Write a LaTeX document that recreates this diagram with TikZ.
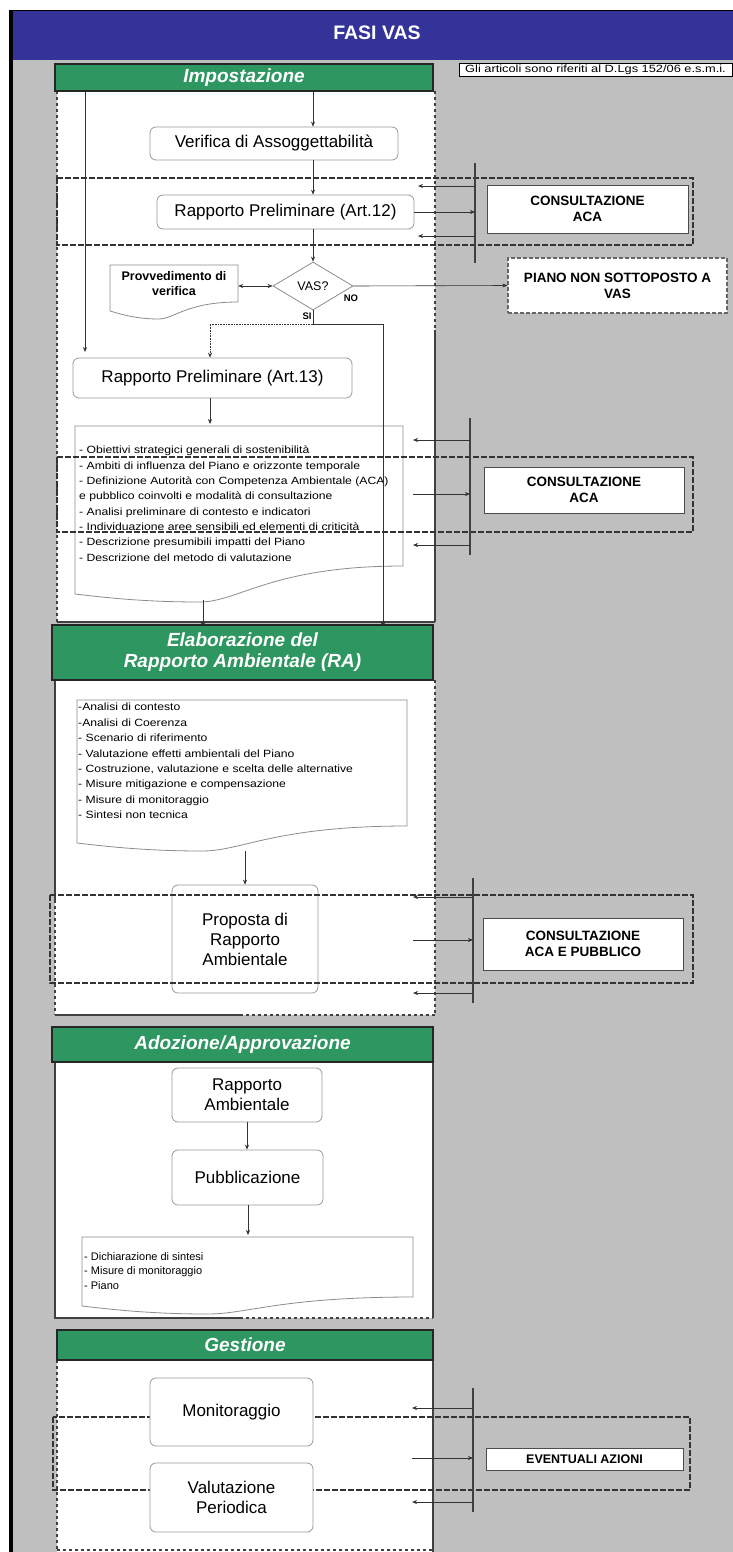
\documentclass[tikz,border=0pt]{standalone}
\usepackage{fontspec}
\setmainfont{Liberation Sans}
\newfontfamily\widefont[FakeStretch=1.16]{Liberation Sans}
\newfontfamily\notefont[FakeStretch=1.22]{Liberation Sans}
\usetikzlibrary{shapes.geometric,arrows.meta}
\definecolor{vblue}{RGB}{51,51,153}
\definecolor{vgreen}{RGB}{46,150,96}
\definecolor{vgray}{RGB}{191,191,191}
\tikzset{
  phasehead/.style={fill=vgreen, draw=black!85, line width=1.5pt, text=white,
    font=\bfseries\itshape\fontsize{19}{21}\selectfont, align=center, inner sep=0pt},
  stepbox/.style={draw=black!40, rounded corners=6pt, fill=white, line width=0.8pt,
    font=\fontsize{17}{20}\selectfont, align=center, inner sep=0pt},
  consbox/.style={draw=black!70, fill=white, line width=1pt,
    font=\bfseries\fontsize{13.5}{16}\selectfont, align=center, inner sep=0pt},
  notebox/.style={draw=black, fill=white, line width=0.9pt, minimum width=273pt,
    minimum height=13pt, inner sep=0pt, font=\notefont\fontsize{10.5}{11}\selectfont},
  pedge/.style={line width=1.3pt, black!75},
  vbar/.style={line width=2.6pt, black!75},
  band/.style={draw=black!80, line width=1.5pt, dash pattern=on 6pt off 2pt},
  arr/.style={-{Stealth[length=5pt,width=4pt]}, black!80, line width=0.6pt},
  dotend/.style={-{Circle[length=4pt]}, black!80, line width=0.7pt},
  docline/.style={draw=black!45, fill=white, line width=0.8pt},
  listtext/.style={font=\widefont\fontsize{10.5}{15.3}\selectfont, align=left, anchor=north west, inner sep=0pt},
  smalllab/.style={font=\bfseries\fontsize{9.5}{10}\selectfont, inner sep=0pt},
}
\newcommand{\vasdoc}[5]{%
  \draw[docline] (#1,#3) -- (#2,#3) -- (#2,#4)
    .. controls ({#1+0.6*(#2-#1)},{#4}) and ({#1+0.5*(#2-#1)},{#5+8}) .. ({#1+0.38*(#2-#1)},{#5+8})
    .. controls ({#1+0.2*(#2-#1)},{#5+8}) and ({#1+0.08*(#2-#1)},{#5+3}) .. (#1,#5) -- cycle;}
\begin{document}
\begin{tikzpicture}[x=1pt,y=-1pt]
\useasboundingbox (0,0) rectangle (733,1552);
% ---------- background ----------
\fill[white] (0,0) rectangle (733,1552);
\fill[vgray] (12,60) rectangle (733,1552);
\fill[vblue] (10,10) rectangle (733,60);
\draw[black, line width=1pt] (10,10.5) -- (733,10.5);
\fill[black] (8.5,10) rectangle (12.5,1552);
\node[font=\bfseries\fontsize{19.5}{22}\selectfont, text=white] (title) at (377,33) {FASI VAS};
\node[notebox] (note) at (595.5,69.5) {Gli articoli sono riferiti al D.Lgs 152/06 e.s.m.i.};

% ---------- panels ----------
\fill[white] (57,91) rectangle (435,622);
\draw[pedge, dashed] (57,91) -- (57,622);
\draw[pedge, dashed] (435,91) -- (435,330);
\draw[pedge] (435,330) -- (435,622);
\draw[pedge] (57,622) -- (435,622);

\fill[white] (55,680) rectangle (435,1015);
\draw[pedge] (55,680) -- (55,900);
\draw[pedge, dashed] (55,900) -- (55,1015);
\draw[pedge, dashed] (435,680) -- (435,1015);
\draw[pedge] (55,1015) -- (240,1015);
\draw[pedge, dashed] (240,1015) -- (435,1015);

\fill[white] (55,1062) rectangle (433,1318);
\draw[pedge] (55,1062) -- (55,1318) -- (240,1318);
\draw[pedge, dashed] (240,1318) -- (433,1318);
\draw[pedge] (433,1062) -- (433,1318);

\fill[white] (57,1360) rectangle (433,1552);
\draw[pedge, dashed] (57,1360) -- (57,1552);
\draw[pedge] (433,1360) -- (433,1552);
\draw[pedge, dashed] (57,1550) -- (433,1550);

% ---------- headers ----------
\node[phasehead, minimum width=378pt, minimum height=27pt] (h1) at (244,77.5) {Impostazione};
\node[phasehead, minimum width=381pt, minimum height=55pt] (h2) at (242.5,652.5) {Elaborazione del\\Rapporto Ambientale (RA)};
\node[phasehead, minimum width=381pt, minimum height=35pt] (h3) at (242.5,1044.5) {Adozione/Approvazione};
\node[phasehead, minimum width=376pt, minimum height=30pt] (h4) at (245,1345) {Gestione};

% ---------- phase 1 ----------
\node[stepbox, minimum width=248pt, minimum height=33pt] (ver) at (274,143.5) {Verifica di Assoggettabilità};
\node[stepbox, minimum width=257pt, minimum height=34pt] (rp12) at (285.5,212) {Rapporto Preliminare (Art.12)};
\node[draw=black!45, fill=white, line width=0.8pt, shape=diamond, shape aspect=1.7,
      minimum width=80pt, minimum height=48pt, inner sep=0pt, font=\fontsize{12.5}{14}\selectfont] (vas) at (313,286) {VAS?};
\vasdoc{110}{238}{265}{302}{311}
\node[font=\bfseries\fontsize{12.5}{15}\selectfont, align=center, minimum width=128pt, inner sep=0pt] (prov) at (174,284) {Provvedimento di\\verifica};
\node[consbox, dash pattern=on 4pt off 2pt, line width=1.2pt, draw=black!60, minimum width=219pt, minimum height=55pt] (piano) at (617.5,285.5) {PIANO NON SOTTOPOSTO A\\VAS};
\node[stepbox, minimum width=279pt, minimum height=40pt] (rp13) at (212.5,378) {Rapporto Preliminare (Art.13)};
\vasdoc{75}{403}{426}{566}{594}
\node[listtext] (list1) at (79,446) {- Obiettivi strategici generali di sostenibilità\\
- Ambiti di influenza del Piano e orizzonte temporale\\
- Definizione Autorità con Competenza Ambientale (ACA)\\
e pubblico coinvolti e modalità di consultazione\\
- Analisi preliminare di contesto e indicatori\\
- Individuazione aree sensibili ed elementi di criticità\\
- Descrizione presumibili impatti del Piano\\
- Descrizione del metodo di valutazione};

\coordinate (x313) at (313,0);
\coordinate (lt) at (85,91);
\coordinate (lb) at (85,352);
\draw[arr] (lt) -- (lb);
\draw[arr] (h1.south -| x313) -- (ver.north -| x313);
\draw[arr] (ver.south -| x313) -- (rp12.north -| x313);
\draw[arr] (rp12.south -| x313) -- (vas.north);
\draw[{Stealth[length=5pt,width=4pt]}-{Stealth[length=5pt,width=4pt]}, black!80, line width=0.6pt] (prov.east |- vas.west) -- (vas.west);
\draw[arr] (vas.east) -- (piano.west);
\node[smalllab] (nolab) at (351,298) {NO};
\node[smalllab] (silab) at (307,316) {SI};
\coordinate (si) at (313,324);
\coordinate (sr) at (383,324);
\coordinate (sl) at (210,324);
\coordinate (sd) at (383,625);
\draw[black!80, line width=1pt] (vas.south) -- (si) -- (sr);
\draw[dotend] (sr) -- (sd);
\draw[arr, densely dotted] (si) -- (sl) -- (rp13.north -| sl);
\coordinate (d1t) at (210,424);
\draw[arr] (rp13.south -| d1t) -- (d1t);
\coordinate (d1b) at (203,600);
\coordinate (d1h) at (203,625);
\draw[dotend] (d1b) -- (d1h);

% ---------- phase 2 ----------
\vasdoc{77}{407}{700}{826}{843}
\node[listtext, font=\widefont\fontsize{10.5}{15.4}\selectfont] (list2) at (78,703) {-Analisi di contesto\\
-Analisi di Coerenza\\
- Scenario di riferimento\\
- Valutazione effetti ambientali del Piano\\
- Costruzione, valutazione e scelta delle alternative\\
- Misure mitigazione e compensazione\\
- Misure di monitoraggio\\
- Sintesi non tecnica};
\node[stepbox, minimum width=146pt, minimum height=108pt] (prop) at (245,939) {Proposta di\\Rapporto\\Ambientale};
\coordinate (d2b) at (245,851);
\draw[arr] (d2b) -- (prop.north);

% ---------- phase 3 ----------
\node[stepbox, minimum width=150pt, minimum height=54pt] (ra) at (247,1095) {Rapporto\\Ambientale};
\node[stepbox, minimum width=151pt, minimum height=55pt] (pub) at (247.5,1177.5) {Pubblicazione};
\draw[arr] (ra.south) -- (pub.north -| ra.south);
\vasdoc{82}{413}{1237}{1297}{1306}
\coordinate (d3t) at (248,1235);
\draw[arr] (pub.south -| d3t) -- (d3t);
\node[listtext, font=\fontsize{11}{14.5}\selectfont] (list3) at (84,1252) {- Dichiarazione di sintesi\\
- Misure di monitoraggio\\
- Piano};

% ---------- consultation bands ----------
\draw[band] (57,178) rectangle (693,245);
\draw[band] (57,457) rectangle (693,532);
\draw[band] (50,895) rectangle (693,983);
\draw[band] (53,1417) rectangle (690,1490);

% ---------- phase 4 ----------
\node[stepbox, minimum width=163pt, minimum height=68pt] (mon) at (231.5,1412) {Monitoraggio};
\node[stepbox, minimum width=163pt, minimum height=69pt] (val) at (231.5,1497.5) {Valutazione\\Periodica};

% ---------- consultation boxes ----------
\node[consbox, minimum width=201pt, minimum height=48pt] (cons1) at (587.5,209) {CONSULTAZIONE\\ACA};
\node[consbox, minimum width=200pt, minimum height=46pt] (cons2) at (584,490) {CONSULTAZIONE\\ACA};
\node[consbox, minimum width=200pt, minimum height=52pt] (cons3) at (583,944) {CONSULTAZIONE\\ACA E PUBBLICO};
\node[consbox, minimum width=197pt, minimum height=22pt, font=\bfseries\fontsize{12.5}{14}\selectfont] (ev) at (584.5,1459) {EVENTUALI AZIONI};

% ---------- bars and exchange arrows ----------
% bar 1
\coordinate (b1t) at (475,163); \coordinate (b1b) at (475,263);
\draw[vbar] (b1t) -- (b1b);
\coordinate (b1a) at (475,186); \coordinate (b1al) at (418,186);
\coordinate (b1c) at (475,236); \coordinate (b1cl) at (418,236);
\draw[arr] (b1a) -- (b1al);
\draw[arr] (rp12.east) -- (rp12.east -| b1t);
\draw[arr] (b1c) -- (b1cl);
% bar 2
\coordinate (b2t) at (470,418); \coordinate (b2b) at (470,555);
\draw[vbar] (b2t) -- (b2b);
\coordinate (b2a) at (470,440); \coordinate (b2al) at (413,440);
\coordinate (b2m) at (470,494); \coordinate (b2ml) at (413,494);
\coordinate (b2c) at (470,545); \coordinate (b2cl) at (413,545);
\draw[arr] (b2a) -- (b2al);
\draw[arr] (b2ml) -- (b2m);
\draw[arr] (b2c) -- (b2cl);
% bar 3
\coordinate (b3t) at (473,878); \coordinate (b3b) at (473,1003);
\draw[vbar] (b3t) -- (b3b);
\coordinate (b3a) at (473,897); \coordinate (b3al) at (413,897);
\coordinate (b3m) at (473,940); \coordinate (b3ml) at (413,940);
\coordinate (b3c) at (473,993); \coordinate (b3cl) at (413,993);
\draw[arr] (b3a) -- (b3al);
\draw[arr] (b3ml) -- (b3m);
\draw[arr] (b3c) -- (b3cl);
% bar 4
\coordinate (b4t) at (473,1388); \coordinate (b4b) at (473,1512);
\draw[vbar] (b4t) -- (b4b);
\coordinate (b4a) at (473,1408); \coordinate (b4al) at (412,1408);
\coordinate (b4m) at (473,1458); \coordinate (b4ml) at (412,1458);
\coordinate (b4c) at (473,1502); \coordinate (b4cl) at (412,1502);
\draw[arr] (b4a) -- (b4al);
\draw[arr] (b4ml) -- (b4m);
\draw[arr] (b4c) -- (b4cl);
\end{tikzpicture}
\end{document}
